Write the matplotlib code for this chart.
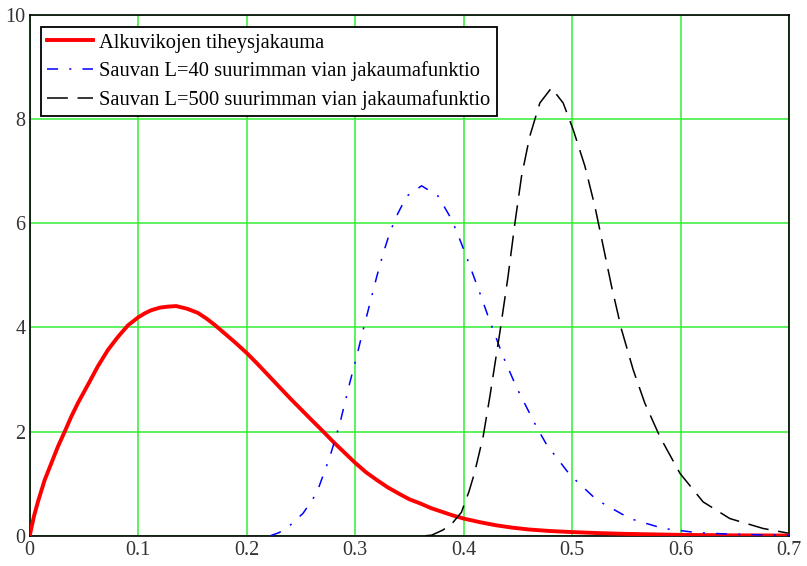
import matplotlib
matplotlib.use("Agg")
import matplotlib.pyplot as plt

# Alkuvikojen tiheysjakauma (punainen)
x_red = [0, 0.004, 0.0077, 0.0138, 0.0199, 0.026, 0.0323, 0.0384, 0.0445, 0.0537, 0.063,
         0.0722, 0.0814, 0.0906, 0.0998, 0.106, 0.112, 0.12, 0.1275, 0.135, 0.145, 0.155,
         0.163, 0.1705, 0.1828, 0.19, 0.20, 0.21, 0.22, 0.23, 0.24, 0.25, 0.26, 0.2706,
         0.28, 0.29, 0.30, 0.31, 0.32, 0.33, 0.341, 0.35, 0.36, 0.37, 0.38, 0.39, 0.40,
         0.415, 0.43, 0.445, 0.46, 0.48, 0.50, 0.525, 0.55, 0.60, 0.65, 0.70]
y_red = [0, 0.38, 0.66, 1.07, 1.39, 1.71, 2.00, 2.29, 2.55, 2.90, 3.26,
         3.57, 3.82, 4.04, 4.19, 4.27, 4.33, 4.38, 4.40, 4.41, 4.36, 4.28,
         4.17, 4.05, 3.83, 3.70, 3.51, 3.30, 3.08, 2.86, 2.64, 2.43, 2.22, 2.00,
         1.80, 1.60, 1.40, 1.22, 1.07, 0.93, 0.80, 0.70, 0.62, 0.53, 0.46, 0.39, 0.33,
         0.26, 0.20, 0.155, 0.12, 0.09, 0.07, 0.05, 0.035, 0.016, 0.007, 0.003]

# L=40 (sininen)
x_blue = [0.222, 0.23, 0.24, 0.252, 0.2645, 0.2768, 0.286, 0.295, 0.3014, 0.3075, 0.32,
          0.326, 0.332, 0.338, 0.3475, 0.3613, 0.3766, 0.3874, 0.3935, 0.401, 0.415,
          0.4242, 0.4365, 0.449, 0.467, 0.4765, 0.498, 0.5226, 0.5533, 0.584, 0.6147,
          0.645, 0.676, 0.70]
y_blue = [0, 0.06, 0.20, 0.43, 0.815, 1.52, 2.16, 2.93, 3.44, 3.96, 4.98,
          5.43, 5.82, 6.13, 6.52, 6.72, 6.52, 6.13, 5.85, 5.45, 4.66,
          4.12, 3.44, 2.84, 2.10, 1.75, 1.17, 0.69, 0.33, 0.14, 0.06,
          0.03, 0.015, 0.008]

# L=500 (musta)
x_black = [0.365, 0.3705, 0.381, 0.39, 0.398, 0.405, 0.41, 0.418, 0.4242, 0.4334, 0.441,
           0.4473, 0.4534, 0.461, 0.4703, 0.481, 0.4918, 0.501, 0.5118, 0.521, 0.5287,
           0.5364, 0.5456, 0.5563, 0.567, 0.581, 0.5994, 0.6208, 0.6454, 0.676, 0.699]
y_black = [0, 0.01, 0.11, 0.25, 0.45, 0.85, 1.20, 1.90, 2.67, 3.90, 4.98,
           6.00, 6.90, 7.67, 8.31, 8.60, 8.31, 7.80, 7.10, 6.33, 5.56,
           4.79, 3.96, 3.19, 2.55, 1.90, 1.20, 0.65, 0.33, 0.14, 0.05]

labels = ["Alkuvikojen tiheysjakauma",
          "Sauvan L=40 suurimman vian jakaumafunktio",
          "Sauvan L=500 suurimman vian jakaumafunktio"]
x_ticks = [0, 0.1, 0.2, 0.3, 0.4, 0.5, 0.6, 0.7]
x_ticklabels = ["0", "0.1", "0.2", "0.3", "0.4", "0.5", "0.6", "0.7"]
y_ticks = [0, 2, 4, 6, 8, 10]

plt.rcParams["font.family"] = ["Liberation Serif", "DejaVu Serif"]
plt.rcParams["lines.scale_dashes"] = False

fig = plt.figure(figsize=(8.07, 5.66), dpi=100)
ax = fig.add_axes([0.0368, 0.0535, 0.9409, 0.92])

ax.plot(x_red, y_red, color="red", lw=2.8, label=labels[0], zorder=3)
ax.plot(x_blue, y_blue, color="blue", lw=1.1, linestyle=(0, (8, 8, 1.5, 8)), label=labels[1], zorder=3)
ax.plot(x_black, y_black, color="black", lw=1.1, linestyle=(0, (15, 7)), label=labels[2], zorder=3)

ax.set_xlim(0, 0.7)
ax.set_ylim(0, 10)
ax.set_xticks(x_ticks)
ax.set_xticklabels(x_ticklabels)
ax.set_yticks(y_ticks)
ax.grid(True, color="#33ee33", lw=1.1)
ax.set_axisbelow(True)
ax.tick_params(length=0, labelsize=14.5, labelcolor="#333333")
ax.tick_params(axis="x", pad=4)
ax.tick_params(axis="y", pad=3)
for s in ax.spines.values():
    s.set_linewidth(1.2)
    s.set_color("black")

leg = ax.legend(loc="upper left", bbox_to_anchor=(0.0145, 0.9775), borderaxespad=0,
                fancybox=False, edgecolor="black", framealpha=1, fontsize=14.8,
                handlelength=2.2, handletextpad=0.3, borderpad=0.32, labelspacing=0.42)
leg.get_frame().set_linewidth(1.3)

fig.savefig("out.png", dpi=100)
